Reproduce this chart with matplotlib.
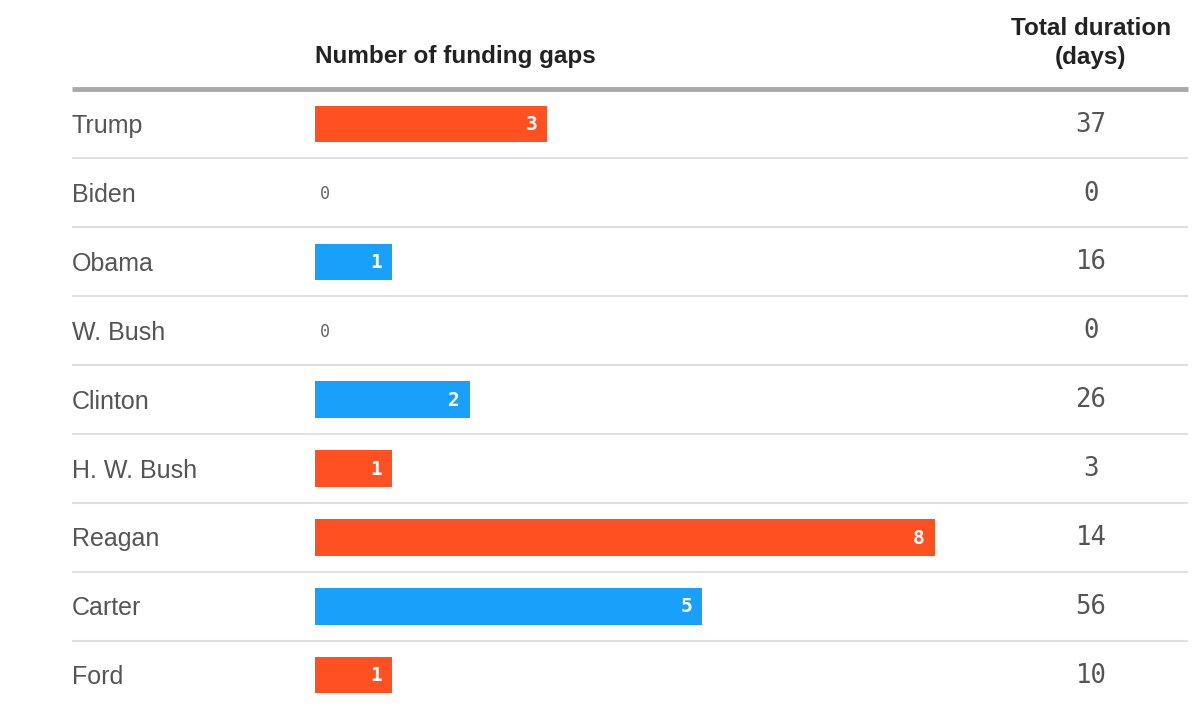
import matplotlib
matplotlib.use("Agg")
import matplotlib.pyplot as plt

presidents = ["Trump", "Biden", "Obama", "W. Bush", "Clinton", "H. W. Bush", "Reagan", "Carter", "Ford"]
gaps = [3, 0, 1, 0, 2, 1, 8, 5, 1]
durations = [37, 0, 16, 0, 26, 3, 14, 56, 10]
parties = ["R", "D", "D", "R", "D", "R", "R", "D", "R"]
party_colors = {"R": "#FF5022", "D": "#18A0FB"}

W, H = 1200, 717
fig = plt.figure(figsize=(W / 100, H / 100), dpi=100)
ax = fig.add_axes([0, 0, 1, 1])
ax.axis("off")

px_per_unit = 77.5
x0 = 315
row0 = 124
pitch = 68.9
ax.set_xlim(-x0 / px_per_unit, (W - x0) / px_per_unit)
ax.set_ylim((H - row0) / pitch, -row0 / pitch)

def px2x(px):
    return (px - x0) / px_per_unit

def py2y(py):
    return (py - row0) / pitch

n = len(presidents)
ys = list(range(n))
colors = [party_colors[p] for p in parties]
ax.barh(ys, gaps, height=0.53, color=colors, zorder=2)

label_font = ["Liberation Sans", "DejaVu Sans"]
mono = "DejaVu Sans Mono"

for i, (name, g, d) in enumerate(zip(presidents, gaps, durations)):
    ax.text(px2x(72), i + 0.03, name, ha="left", va="center", fontsize=18,
            color="#555555", family=label_font)
    if g > 0:
        ax.text(g - 10 / px_per_unit, i + 0.01, str(g), ha="right", va="center",
                fontsize=14, color="white", fontweight="bold", family=mono, zorder=3)
    else:
        ax.text(px2x(320), i + 0.02, str(g), ha="left", va="center",
                fontsize=12, color="#666666", family=mono)
    ax.text(px2x(1091), i + 0.01, str(d), ha="center", va="center",
            fontsize=18.5, color="#555555", family=mono)

# separators
for i in range(n - 1):
    ax.plot([px2x(72), px2x(1188)], [i + 0.5, i + 0.5], color="#e0e0e0", lw=1.5, zorder=1,
            solid_capstyle="butt")
ax.plot([px2x(72), px2x(1188)], [py2y(89), py2y(89)], color="#aaaaaa", lw=3.5, zorder=1,
        solid_capstyle="butt")

# headers
ax.text(0, py2y(56), "Number of funding gaps", ha="left", va="center", fontsize=17.5,
        fontweight="bold", color="#222222", family=label_font)
ax.text(px2x(1091), py2y(43), "Total duration\n(days)", ha="center", va="center", fontsize=17.5,
        fontweight="bold", color="#222222", family=label_font, linespacing=1.35)

fig.savefig("out.png", dpi=100, facecolor="white")
